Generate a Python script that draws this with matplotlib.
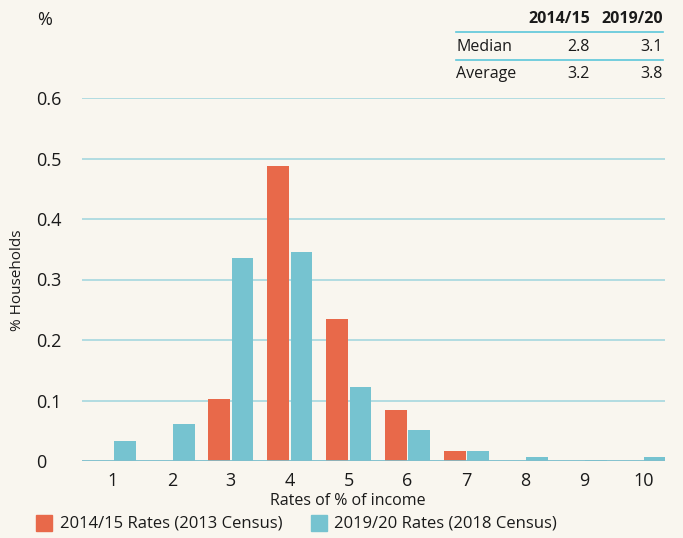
import matplotlib
matplotlib.use("Agg")
import matplotlib.pyplot as plt
from matplotlib.patches import Rectangle
from matplotlib.lines import Line2D
import numpy as np

plt.rcParams['font.family'] = ['Open Sans', 'DejaVu Sans']

categories = [1, 2, 3, 4, 5, 6, 7, 8, 9, 10]
rates_2014 = [0.0, 0.0, 0.102, 0.488, 0.235, 0.084, 0.017, 0.0, 0.0, 0.0]
rates_2019 = [0.033, 0.061, 0.335, 0.345, 0.122, 0.051, 0.017, 0.006, 0.002, 0.006]
series_labels = ["2014/15 Rates (2013 Census)", "2019/20 Rates (2018 Census)"]
yticks = [0, 0.1, 0.2, 0.3, 0.4, 0.5, 0.6]
ytick_labels = ["0", "0.1", "0.2", "0.3", "0.4", "0.5", "0.6"]
table_cols = ["2014/15", "2019/20"]
table_rows = ["Median", "Average"]
table_vals = [["2.8", "3.1"], ["3.2", "3.8"]]

bg = "#f9f6ef"
red = "#e8694a"
blue = "#76c3d0"
grid = "#a6d7df"

W, H = 683, 538
fig = plt.figure(figsize=(W / 100, H / 100), dpi=100, facecolor=bg)
ax = fig.add_axes([82 / W, 1 - 461 / H, (665 - 82) / W, (461 - 98) / H], facecolor=bg)

x = np.array(categories, dtype=float)
bw = 0.37
ax.bar(x - bw / 2 - 0.015, rates_2014, width=bw, color=red, zorder=3)
ax.bar(x + bw / 2 + 0.015, rates_2019, width=bw, color=blue, zorder=3)

ax.set_xlim(0.474, 10.37)
ax.set_ylim(0, 0.6)
ax.set_yticks(yticks)
ax.set_yticklabels(ytick_labels)
ax.set_xticks(categories)
ax.set_xticklabels([str(c) for c in categories])
ax.yaxis.grid(True, color=grid, linewidth=1.2, zorder=0)
ax.set_axisbelow(True)
for s in ["top", "right", "left", "bottom"]:
    ax.spines[s].set_visible(False)
ax.axhline(0, color="#7fbfcc", linewidth=1.2, zorder=4)
ax.tick_params(axis="both", length=0, labelsize=13, colors="#1a1a1a")
ax.tick_params(axis="y", pad=0)
for lab in ax.get_yticklabels():
    lab.set_horizontalalignment("left")
    lab.set_x(-(82 - 36) / (665 - 82))
ax.tick_params(axis="x", pad=8)
ax.set_xlabel("Rates of % of income", fontsize=11.5, color="#1a1a1a", va="center")
ax.xaxis.set_label_coords((348 - 82) / (665 - 82), -(501 - 461) / (461 - 98))
fig.text(18 / W, 1 - 280 / H, "% Households", rotation=90, ha="center", va="center",
         fontsize=11, color="#1a1a1a")
fig.text(37 / W, 1 - 20 / H, "%", ha="left", va="center", fontsize=13, color="#1a1a1a")

# table
fig.text(590 / W, 1 - 19 / H, table_cols[0], ha="right", va="center", fontsize=11.5,
         fontweight="bold", color="#1a1a1a")
fig.text(663 / W, 1 - 19 / H, table_cols[1], ha="right", va="center", fontsize=11.5,
         fontweight="bold", color="#1a1a1a")
row_y = [47, 74]
for i, r in enumerate(table_rows):
    fig.text(456 / W, 1 - row_y[i] / H, r, ha="left", va="center", fontsize=11.5, color="#1a1a1a")
    fig.text(590 / W, 1 - row_y[i] / H, table_vals[i][0], ha="right", va="center", fontsize=11.5, color="#1a1a1a")
    fig.text(663 / W, 1 - row_y[i] / H, table_vals[i][1], ha="right", va="center", fontsize=11.5, color="#1a1a1a")
for ly in [32, 60]:
    fig.add_artist(Line2D([456 / W, 663 / W], [1 - ly / H, 1 - ly / H], color="#5cc6da",
                          linewidth=1.2, transform=fig.transFigure))

# legend
fig.add_artist(Rectangle((36 / W, 1 - 531 / H), 16 / W, 16 / H, color=red, transform=fig.transFigure))
fig.text(60 / W, 1 - 523 / H, series_labels[0], ha="left", va="center", fontsize=12, color="#1a1a1a")
fig.add_artist(Rectangle((311 / W, 1 - 531 / H), 16 / W, 16 / H, color=blue, transform=fig.transFigure))
fig.text(334 / W, 1 - 523 / H, series_labels[1], ha="left", va="center", fontsize=12, color="#1a1a1a")

fig.savefig("out.png", dpi=100, facecolor=bg)
